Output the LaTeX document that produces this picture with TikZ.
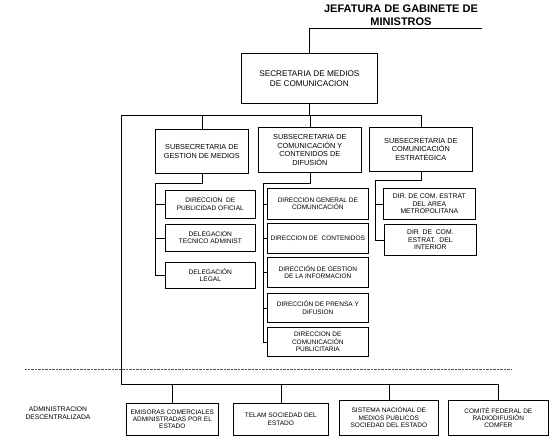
\documentclass[tikz,border=0pt]{standalone}
\usepackage{fontspec}
\setmainfont{Liberation Sans}
\begin{document}
\begin{tikzpicture}[x=1pt,y=-1pt,
  box/.style={draw, line width=0.7pt, inner sep=1pt, align=center, anchor=north west,
    font=\fontsize{6.5}{7.3}\selectfont},
  subbox/.style={box, font=\fontsize{7.3}{8.7}\selectfont},
  smallbox/.style={box, font=\fontsize{6.6}{7.6}\selectfont},
  ebox/.style={box, font=\fontsize{6.8}{7.6}\selectfont},
  conn/.style={line width=0.6pt},
  sep/.style={line width=0.4pt, densely dotted, black!70}]
\useasboundingbox (0,0) rectangle (553,439);

% title
\node[font=\bfseries\fontsize{11}{12.5}\selectfont, align=center] (tit) at (401,15) {JEFATURA DE GABINETE DE\\MINISTROS};

% secretaria
\node[box, font=\fontsize{8.2}{9.8}\selectfont, minimum width=136pt, minimum height=50pt] (sec) at (241,53) {SECRETARIA DE MEDIOS\\DE COMUNICACION};

% subsecretarias
\node[subbox, minimum width=93pt, minimum height=44pt] (s1) at (155,129) {SUBSECRETARIA DE\\GESTION DE MEDIOS};
\node[subbox, minimum width=103pt, minimum height=45pt] (s2) at (258,127) {SUBSECRETARIA DE\\COMUNICACIÓN Y\\CONTENIDOS DE\\DIFUSIÓN};
\node[subbox, minimum width=103pt, minimum height=44pt] (s3) at (369,127) {SUBSECRETARIA DE\\COMUNICACIÓN\\ESTRATÉGICA};

% under s1
\node[smallbox, minimum width=90pt, minimum height=28pt] (a1) at (165,190) {DIRECCION\ \ DE\\PUBLICIDAD OFICIAL};
\node[smallbox, minimum width=90pt, minimum height=27pt] (a2) at (165,224) {DELEGACION\\TECNICO ADMINIST};
\node[smallbox, minimum width=90pt, minimum height=26pt] (a3) at (165,262) {DELEGACIÓN\\LEGAL};

% under s2
\node[box, minimum width=101pt, minimum height=31pt] (d1) at (267,188) {DIRECCION GENERAL DE\\COMUNICACIÓN};
\node[box, minimum width=101pt, minimum height=30pt] (d2) at (267,223) {DIRECCION DE\ \ CONTENIDOS};
\node[box, minimum width=101pt, minimum height=30pt] (d3) at (267,257) {DIRECCIÓN DE GESTION\\DE LA INFORMACION};
\node[box, minimum width=101pt, minimum height=29pt] (d4) at (267,293) {DIRECCIÓN DE PRENSA Y\\DIFUSION};
\node[box, minimum width=101pt, minimum height=29pt] (d5) at (267,327) {DIRECCION DE\\COMUNICACIÓN\\PUBLICITARIA};

% under s3
\node[ebox, minimum width=92pt, minimum height=31pt] (e1) at (383,188) {DIR. DE COM. ESTRAT\\DEL AREA\\METROPOLITANA};
\node[ebox, minimum width=92pt, minimum height=31pt] (e2) at (384,224) {DIR\ \ DE\ \ COM.\\ESTRAT.\ \ DEL\\INTERIOR};

% bottom
\node[font=\fontsize{6.7}{8}\selectfont, align=center] (adm) at (58,413) {ADMINISTRACION\\DESCENTRALIZADA};
\node[box, minimum width=92pt, minimum height=32pt] (em) at (126,403) {EMISORAS COMERCIALES\\ADMINISTRADAS POR EL\\ESTADO};
\node[box, minimum width=95pt, minimum height=32pt] (te) at (233,403) {TELAM SOCIEDAD DEL\\ESTADO};
\node[box, minimum width=99pt, minimum height=35pt] (si) at (339,400) {SISTEMA NACIONAL DE\\MEDIOS PUBLICOS\\SOCIEDAD DEL ESTADO};
\node[box, minimum width=100pt, minimum height=35pt] (co) at (448,400) {COMITÉ FEDERAL DE\\RADIODIFUSIÓN\\COMFER};

% connectors
\coordinate (tr) at (482,28);
\draw[conn] (sec.north) |- (tr);
\coordinate (busL) at (121,115);
\coordinate (busR) at (s3.north |- busL);
\draw[conn] (busL) -- (busR) -- (s3.north);
\draw[conn] (sec.south) -- (sec.south |- busL);
\draw[conn] (s1.north) -- (s1.north |- busL);
\draw[conn] (s2.north) -- (s2.north |- busL);

% s1 tree
\coordinate (k1) at (155,183);
\draw[conn] (s1.south) |- (k1) |- (a3.west);
\draw[conn] (a1.west) -- (a1.west -| k1);
\draw[conn] (a2.west) -- (a2.west -| k1);

% s2 tree
\coordinate (k2) at (263,183);
\draw[conn] (s2.south) |- (k2) -- (k2 |- d5.west) -- (d5.west);
\foreach \n in {d1,d2,d3,d4} \draw[conn] (\n.west) -- (\n.west -| k2);

% s3 tree
\coordinate (k3) at (375,180);
\draw[conn] (s3.south) |- (k3) |- (e2.west);
\draw[conn] (e1.west) -- (e1.west -| k3);

% bottom bus
\coordinate (bb) at (121,384);
\draw[conn] (busL) -- (bb) -| (co.north);
\foreach \n in {em,te,si} \draw[conn] (\n.north) -- (\n.north |- bb);

% separator
\coordinate (dl) at (25,369);
\coordinate (dr) at (511,369);
\draw[sep] (dl) -- (dr);
\end{tikzpicture}
\end{document}
